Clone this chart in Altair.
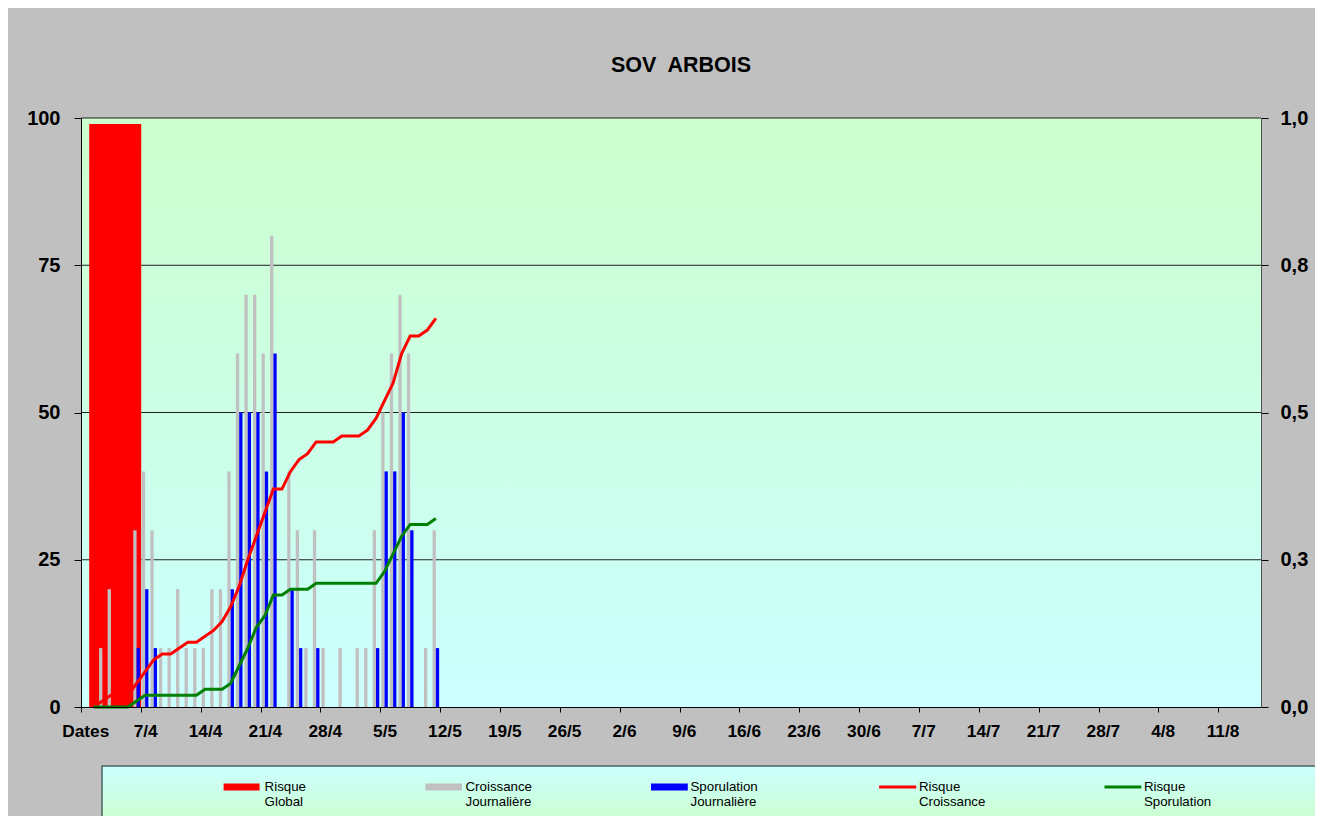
import altair as alt
import pandas as pd

# ---------------- data ----------------
TITLE = "SOV\u00a0 ARBOIS"
AXIS_START = "2009-03-31"      # first category of the date axis ("Dates")
N_DAYS = 138                   # number of daily categories on the axis
FIRST_DATE = "2009-04-01"      # first day of the daily series

# daily growth (Croissance Journalière), 0-100
croissance = [0, 10, 20, 0, 0, 30, 40, 30, 10, 10, 20, 10, 10, 10, 20, 20, 40, 60, 70, 70,
              60, 80, 0, 40, 30, 10, 30, 10, 0, 10, 0, 10, 10, 30, 50, 60, 70, 60, 0, 10, 30]
# daily sporulation (Sporulation Journalière), 0-100
sporulation = [0, 0, 0, 0, 0, 10, 20, 10, 0, 0, 0, 0, 0, 0, 0, 0, 20, 50, 50, 50,
               40, 60, 0, 20, 10, 0, 10, 0, 0, 0, 0, 0, 0, 10, 40, 40, 50, 30, 0, 0, 10]
# cumulative risks, 0-1 (right axis)
risque_croissance = [0.00, 0.01, 0.02, 0.02, 0.02, 0.04, 0.06, 0.08, 0.09, 0.09, 0.10, 0.11, 0.11,
                     0.12, 0.13, 0.145, 0.17, 0.205, 0.25, 0.29, 0.33, 0.37, 0.37, 0.40, 0.42,
                     0.43, 0.45, 0.45, 0.45, 0.46, 0.46, 0.46, 0.47, 0.49, 0.52, 0.55, 0.60,
                     0.63, 0.63, 0.64, 0.66]
risque_sporulation = [0, 0, 0, 0, 0, 0.01, 0.02, 0.02, 0.02, 0.02, 0.02, 0.02, 0.02, 0.03, 0.03,
                      0.03, 0.04, 0.07, 0.10, 0.135, 0.155, 0.19, 0.19, 0.20, 0.20, 0.20, 0.21,
                      0.21, 0.21, 0.21, 0.21, 0.21, 0.21, 0.21, 0.23, 0.26, 0.29, 0.31, 0.31,
                      0.31, 0.32]
# global risk bar
risque_global_date = "2009-04-04"
risque_global = [99]

x_tick_labels = ["Dates", "7/4", "14/4", "21/4", "28/4", "5/5", "12/5", "19/5", "26/5", "2/6",
                 "9/6", "16/6", "23/6", "30/6", "7/7", "14/7", "21/7", "28/7", "4/8", "11/8"]
left_ticks = [0, 25, 50, 75, 100]
right_ticks = [0, 0.25, 0.5, 0.75, 1.0]
right_tick_labels = ["0,0", "0,3", "0,5", "0,8", "1,0"]

legend_labels = [["Risque", "Global"], ["Croissance", "Journalière"],
                 ["Sporulation", "Journalière"], ["Risque", "Croissance"],
                 ["Risque", "Sporulation"]]

# ---------------- tables ----------------
start = pd.Timestamp(AXIS_START)
dates = pd.date_range(FIRST_DATE, periods=len(croissance))
df = pd.DataFrame({
    "day": (dates - start).days,
    "croissance": croissance,
    "sporulation": sporulation,
    "rc": risque_croissance,
    "rs": risque_sporulation,
})
gdf = pd.DataFrame({"day": [(pd.Timestamp(risque_global_date) - start).days],
                    "value": risque_global})
grid_df = pd.DataFrame({"v": left_ticks[1:]})

W, H = 1180, 589
FONT = "Liberation Sans"

xscale = alt.Scale(domain=[0, N_DAYS], nice=False, zero=False, padding=0)
yscale = alt.Scale(domain=[0, 100], nice=False, padding=0)
y2scale = alt.Scale(domain=[0, 1], nice=False, padding=0)

week_vals = [7 * i for i in range(len(x_tick_labels))]
x_label_expr = "[" + ",".join("'%s'" % s for s in x_tick_labels) + "][round(datum.value / 7)]"
r_label_expr = "[" + ",".join("'%s'" % s for s in right_tick_labels) + "][round(datum.value * 4)]"

x_axis = alt.Axis(values=week_vals, labelExpr=x_label_expr, tickSize=5, tickColor="black",
                  domainColor="black", labelFont=FONT, labelFontSize=17.3, labelFontWeight="bold",
                  labelColor="black", labelPadding=10, labelOffset=4.3, grid=False, title=None,
                  labelOverlap=False, labelFlush=False, zindex=1)
left_axis = alt.Axis(values=left_ticks, tickSize=7, tickColor="black", domainColor="black",
                     labelFont=FONT, labelFontSize=20, labelFontWeight="bold", labelColor="black",
                     labelPadding=14, grid=False, title=None, zindex=1)
right_axis = alt.Axis(orient="right", values=right_ticks, labelExpr=r_label_expr, tickSize=7,
                      tickColor="black", domainColor="#505050", labelFont=FONT, labelFontSize=20,
                      labelFontWeight="bold", labelColor="black", labelPadding=12, grid=False,
                      title=None, zindex=1)

one = alt.Data(values=[{}])

bg = alt.Chart(one).mark_rect(
    fill=alt.Gradient(gradient="linear", x1=0, x2=0, y1=0, y2=1,
                      stops=[alt.GradientStop(color="#CCFFCC", offset=0),
                             alt.GradientStop(color="#CCFFFF", offset=1)])
).encode(x=alt.value(0), x2=alt.value(W), y=alt.value(0), y2=alt.value(H))

grid = alt.Chart(grid_df).mark_rule(color="#202020", strokeWidth=1).encode(
    y=alt.Y("v:Q", scale=yscale, axis=left_axis))

gbar = alt.Chart(gdf).mark_bar(color="#FF0000", size=52, orient="vertical").encode(
    x=alt.X("day:Q", scale=xscale, axis=x_axis),
    y=alt.Y("value:Q", scale=yscale, axis=left_axis))

gray = alt.Chart(df).transform_filter("datum.croissance > 0").transform_calculate(
    xc="datum.day + 0.5").mark_bar(color="#C0C0C0", size=3.3, xOffset=-1.65, orient="vertical").encode(
    x=alt.X("xc:Q", scale=xscale, axis=x_axis),
    y=alt.Y("croissance:Q", scale=yscale, axis=left_axis))

blue = alt.Chart(df).transform_filter("datum.sporulation > 0").transform_calculate(
    xc="datum.day + 0.5").mark_bar(color="#0000FF", size=3.3, xOffset=1.65, orient="vertical").encode(
    x=alt.X("xc:Q", scale=xscale, axis=x_axis),
    y=alt.Y("sporulation:Q", scale=yscale, axis=left_axis))

left = alt.layer(bg, grid, gbar, gray, blue)

red_line = alt.Chart(df).transform_calculate(xc="datum.day + 0.5").mark_line(
    color="#FF0000", strokeWidth=3).encode(
    x=alt.X("xc:Q", scale=xscale, axis=x_axis),
    y=alt.Y("rc:Q", scale=y2scale, axis=right_axis))
green_line = alt.Chart(df).transform_calculate(xc="datum.day + 0.5").mark_line(
    color="#008000", strokeWidth=3).encode(
    x=alt.X("xc:Q", scale=xscale, axis=x_axis),
    y=alt.Y("rs:Q", scale=y2scale, axis=right_axis))
right = alt.layer(red_line, green_line)

# ---------------- manual legend (below the plot) ----------------
legend_box = alt.Chart(one).mark_rect(
    fill=alt.Gradient(gradient="linear", x1=0, x2=0, y1=0, y2=1,
                      stops=[alt.GradientStop(color="#CCFFFF", offset=0),
                             alt.GradientStop(color="#CCFFCC", offset=1)]),
    stroke="#4A6464", strokeWidth=1.5
).encode(x=alt.value(21), x2=alt.value(1270), y=alt.value(648), y2=alt.value(706))

sw_y1, sw_y2, line_y, text_y = 665.5, 672.5, 669, 673
swatch_x = [(142.6, 178.6), (344.3, 381.0), (570.0, 606.8), (798.1, 835.2), (1023.5, 1060.3)]
text_x = [183.6, 384.5, 609.5, 837.9, 1062.9]
swatch_color = ["#FF0000", "#C0C0C0", "#0000FF", "#FF0000", "#008000"]
swatch_kind = ["rect", "rect", "rect", "line", "line"]

leg_layers = [legend_box]
for i in range(5):
    x1, x2 = swatch_x[i]
    if swatch_kind[i] == "rect":
        leg_layers.append(alt.Chart(one).mark_rect(color=swatch_color[i]).encode(
            x=alt.value(x1), x2=alt.value(x2), y=alt.value(sw_y1), y2=alt.value(sw_y2)))
    else:
        leg_layers.append(alt.Chart(one).mark_rule(color=swatch_color[i], strokeWidth=3).encode(
            x=alt.value(x1), x2=alt.value(x2), y=alt.value(line_y)))
    leg_layers.append(alt.Chart(one).mark_text(
        align="left", baseline="alphabetic", font=FONT, fontSize=13.3, lineHeight=15,
        color="black").encode(x=alt.value(text_x[i]), y=alt.value(text_y),
                              text=alt.value(legend_labels[i])))

chart = alt.layer(left, right, *leg_layers).resolve_scale(y="independent").properties(
    width=W, height=H,
    title=alt.TitleParams(TITLE, fontSize=21.5, font=FONT, fontWeight="bold", anchor="middle",
                          dx=10, offset=15, baseline="alphabetic", color="black"),
    autosize=alt.AutoSizeParams(type="none"),
    padding={"left": 73, "top": 110, "right": 54, "bottom": 109},
).configure(background="#C0C0C0").configure_view(stroke=None)

chart.save("out.html", embed_options={"renderer": "svg", "actions": False})
